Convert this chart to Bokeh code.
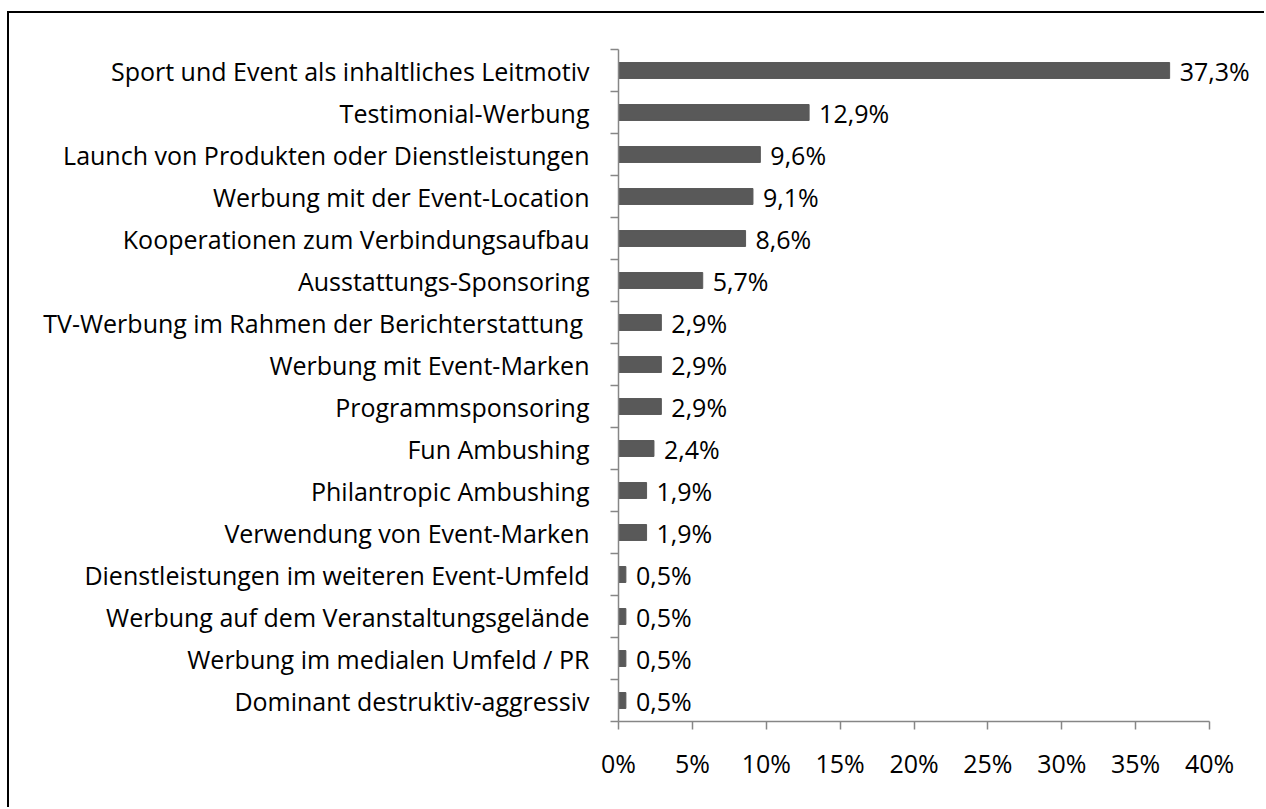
from bokeh.plotting import figure
from bokeh.models import (Range1d, LinearAxis, FixedTicker, ColumnDataSource,
                          CustomJSTickFormatter, LabelSet)
from bokeh.core.properties import value
from bokeh.embed import file_html
from bokeh.resources import INLINE

categories = [
    "Sport und Event als inhaltliches Leitmotiv",
    "Testimonial-Werbung",
    "Launch von Produkten oder Dienstleistungen",
    "Werbung mit der Event-Location",
    "Kooperationen zum Verbindungsaufbau",
    "Ausstattungs-Sponsoring",
    "TV-Werbung  im Rahmen der Berichterstattung",
    "Werbung mit Event-Marken",
    "Programmsponsoring",
    "Fun Ambushing",
    "Philantropic Ambushing",
    "Verwendung von Event-Marken",
    "Dienstleistungen im weiteren Event-Umfeld",
    "Werbung auf dem Veranstaltungsgelände",
    "Werbung im medialen Umfeld / PR",
    "Dominant destruktiv-aggressiv",
]
values = [37.3, 12.9, 9.6, 9.1, 8.6, 5.7, 2.9, 2.9, 2.9, 2.4, 1.9, 1.9, 0.5, 0.5, 0.5, 0.5]
value_labels = ["37,3%", "12,9%", "9,6%", "9,1%", "8,6%", "5,7%", "2,9%", "2,9%", "2,9%",
                "2,4%", "1,9%", "1,9%", "0,5%", "0,5%", "0,5%", "0,5%"]
x_ticks = [0, 5, 10, 15, 20, 25, 30, 35, 40]

FONT = "Open Sans"
FS = "25px"
AXIS_COLOR = "#868686"

n = len(categories)
ypos = [n - 0.5 - i for i in range(n)]   # slot centres, first category on top
bounds = list(range(n + 1))               # slot boundaries (tick marks)
src = ColumnDataSource(dict(y=ypos, val=values, lab=value_labels))

# frame extends a little beyond 40% so the value labels are not clipped;
# the axis itself is bounded to 0..40
p = figure(width=1257, height=796, output_backend="svg", toolbar_location=None,
           y_range=Range1d(0, n), x_range=Range1d(0, 43.72),
           y_axis_location=None, x_axis_location=None,
           min_border_left=609, min_border_right=2, min_border_top=36, min_border_bottom=88)
p.styles = {"margin-left": "7px", "margin-top": "11px",
            "border-left": "2px solid black", "border-top": "2px solid black"}
p.outline_line_color = None
p.grid.visible = False

p.hbar(y="y", right="val", left=0, height=0.38, source=src, color="#595959")
p.add_layout(LabelSet(x="val", y="y", text="lab", source=src, x_offset=10,
                      text_baseline="middle", text_align="left", text_font=value(FONT),
                      text_font_size=value(FS), text_color="#000000"))

# x axis
xa = LinearAxis(ticker=FixedTicker(ticks=x_ticks), bounds=(x_ticks[0], x_ticks[-1]))
xa.formatter = CustomJSTickFormatter(code="return tick + '%';")
xa.axis_line_color = AXIS_COLOR
xa.axis_line_width = 1.5
xa.major_tick_line_color = AXIS_COLOR
xa.major_tick_line_width = 1.5
xa.major_tick_in = 0
xa.major_tick_out = 8
xa.minor_tick_out = 0
xa.minor_tick_in = 0
xa.major_label_standoff = 16
xa.major_label_text_font = FONT
xa.major_label_text_font_size = FS
xa.major_label_text_color = "#000000"
p.add_layout(xa, "below")

# y axis: labels at slot centres, tick marks at slot boundaries
ya = LinearAxis(ticker=FixedTicker(ticks=ypos, minor_ticks=bounds))
ya.major_label_overrides = {y: c for y, c in zip(ypos, categories)}
ya.axis_line_color = AXIS_COLOR
ya.axis_line_width = 1.5
ya.major_tick_line_color = None
ya.major_tick_in = 0
ya.major_tick_out = 0
ya.minor_tick_line_color = AXIS_COLOR
ya.minor_tick_line_width = 1.5
ya.minor_tick_out = 8
ya.minor_tick_in = 0
ya.major_label_standoff = 21
ya.major_label_text_font = FONT
ya.major_label_text_font_size = FS
ya.major_label_text_color = "#000000"
p.add_layout(ya, "left")

open("out.html", "w").write(file_html(p, INLINE))
